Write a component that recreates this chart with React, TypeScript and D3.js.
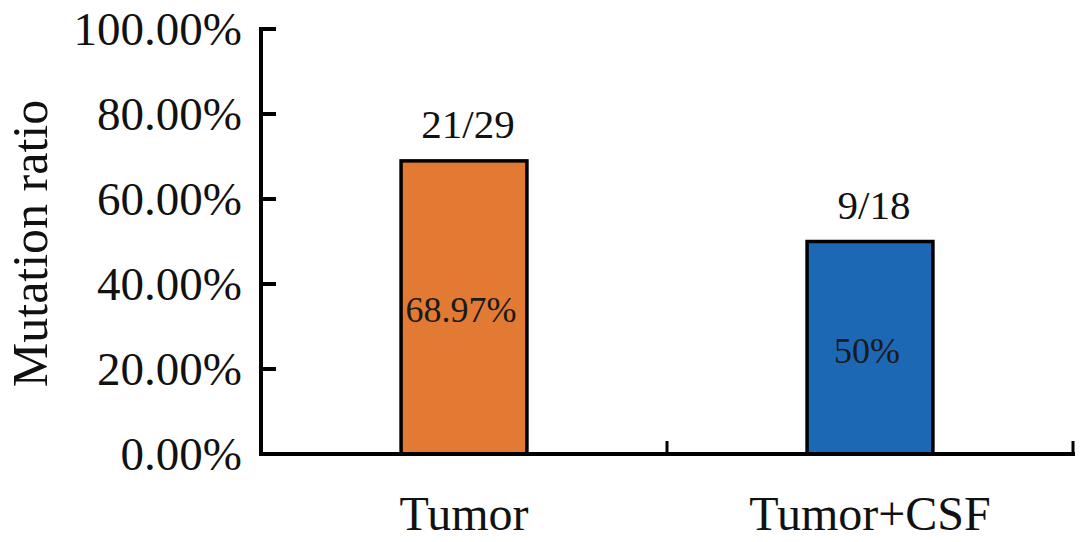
import React from "react";
import * as d3 from "d3";

const categories = ["Tumor", "Tumor+CSF"];
const ratios = [0.6897, 0.5];
const countLabels = ["21/29", "9/18"];
const percentLabels = ["68.97%", "50%"];
const yTicks = [0, 0.2, 0.4, 0.6, 0.8, 1.0];
const barColors = ["#E37A34", "#1C68B5"];

const W = 1087;
const H = 542;
const left = 261;
const right = 1073;
const top = 29;
const bottom = 454;
const font = "'Liberation Serif', 'Times New Roman', serif";

export default function App() {
  const x = d3.scaleBand<string>().domain(categories).range([left, right]).padding(0);
  const y = d3.scaleLinear().domain([0, 1]).range([bottom, top]);
  const bw = x.bandwidth() * 0.31;
  const fmt = d3.format(".2%");

  return (
    <svg width={W} height={H} style={{ position: "absolute", left: 0, top: 0, background: "#fff" }}>
      <rect x={0} y={0} width={W} height={H} fill="#fff" />
      {/* bars */}
      {categories.map((c, i) => {
        const cx = (x(c) as number) + x.bandwidth() / 2;
        return (
          <g key={c}>
            <rect
              x={cx - bw / 2}
              y={y(ratios[i])}
              width={bw}
              height={bottom - y(ratios[i])}
              fill={barColors[i]}
              stroke="#000"
              strokeWidth={3.5}
            />
            <text
              x={cx + 4}
              y={y(ratios[i]) - 23}
              textAnchor="middle"
              fontFamily={font}
              fontSize={41}
              fill="#111"
            >
              {countLabels[i]}
            </text>
            <text
              x={cx - 3}
              y={i === 0 ? 322 : 363}
              textAnchor="middle"
              fontFamily={font}
              fontSize={36}
              fill="#1a1a1a"
            >
              {percentLabels[i]}
            </text>
            <text
              x={cx}
              y={530}
              textAnchor="middle"
              fontFamily={font}
              fontSize={48}
              fill="#111"
            >
              {c}
            </text>
          </g>
        );
      })}
      {/* y axis */}
      <line x1={left} x2={left} y1={top - 2} y2={bottom + 2} stroke="#000" strokeWidth={4} />
      {yTicks.map((t) => (
        <g key={t}>
          <line x1={left} x2={left + 15} y1={y(t)} y2={y(t)} stroke="#000" strokeWidth={4} />
          <text
            x={242}
            y={y(t) + 16}
            textAnchor="end"
            fontFamily={font}
            fontSize={47}
            fill="#111"
          >
            {fmt(t)}
          </text>
        </g>
      ))}
      {/* x axis */}
      <line x1={left - 2} x2={right + 2} y1={bottom} y2={bottom} stroke="#000" strokeWidth={4} />
      {categories.map((c) => {
        const xe = (x(c) as number) + x.bandwidth();
        return <line key={c} x1={xe} x2={xe} y1={bottom} y2={bottom - 13} stroke="#000" strokeWidth={3} />;
      })}
      <text
        transform={`translate(47, ${(top + bottom) / 2 + 2}) rotate(-90)`}
        textAnchor="middle"
        fontFamily={font}
        fontSize={50}
        fill="#111"
      >
        Mutation ratio
      </text>
    </svg>
  );
}
